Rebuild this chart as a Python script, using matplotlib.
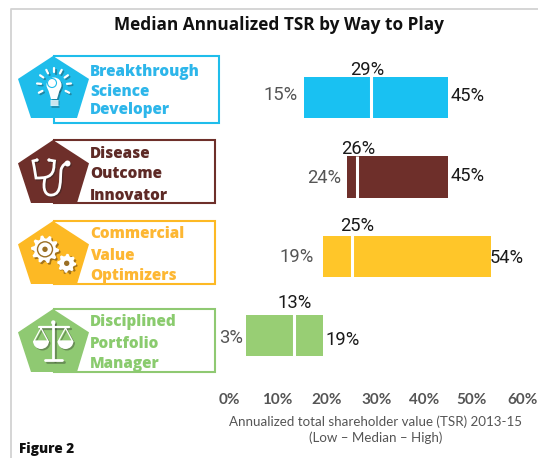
import numpy as np
from matplotlib import pyplot as plt
from matplotlib.patches import Polygon, Circle, Rectangle, PathPatch, Wedge
from matplotlib.path import Path
from matplotlib.transforms import ScaledTranslation

# data
groups = ["Breakthrough\nScience\nDeveloper", "Disease\nOutcome\nInnovator",
          "Commercial\nValue\nOptimizers", "Disciplined\nPortfolio\nManager"]
low = [15, 24, 19, 3]
median = [29, 26, 25, 13]
high = [45, 45, 54, 19]
ticks = [0, 10, 20, 30, 40, 50, 60]
tick_labels = ["0%", "10%", "20%", "30%", "40%", "50%", "60%"]

bar_colors = ["#19C1F2", "#6E2F2A", "#FFC629", "#98CE74"]
hex_colors = ["#1FBDEB", "#6E2F2A", "#FDB924", "#8FC972"]
text_colors = ["#2DB6EA", "#5E2A26", "#FDB733", "#8ACB6E"]

# label offsets in pixels from the bar ends
low_off = [(-23, -3), (-23, 0.5), (-26, 0.5), (-15, 2.5)]
med_off = [(-4, -28), (2, -28.5), (5, -30.5), (0, -32.5)]
high_off = [(20, -2), (19.5, -1.5), (16, 1.5), (20, 4.5)]
tick_off = [-3, -3, -1, 1, 0, 0, 3.5]

# box positions: top, bottom, right, text lines
box_top = [56, 140, 221, 309]
box_bot = [123, 203, 284, 372]
box_right = [219, 215, 215, 215]
text_y = [[72.5, 92.5, 110.5], [153.5, 174.5, 195.5], [234.5, 255.5, 276.5], [322.5, 343.5, 364.5]]

W, H = 538, 458
fig = plt.figure(figsize=(W / 100, H / 100), dpi=100)

bg = fig.add_axes([0, 0, 1, 1])
bg.set_xlim(0, W)
bg.set_ylim(H, 0)
bg.axis("off")

bg.plot([10.5, 10.5, W], [H, 8.5, 8.5], color="#D2D2D2", lw=1.3)

bg.text(278.5, 25, "Median Annualized TSR by Way to Play", ha="center", va="center",
        family="Open Sans", weight="bold", size=12.4, color="#111111")
bg.text(19, 449, "Figure 2", ha="left", va="center", family="Open Sans",
        weight="extra bold", size=9.8, color="#111111")


def line(pts, lw, color, alpha=1.0, cap="round"):
    xs, ys = zip(*pts)
    bg.plot(xs, ys, color=color, lw=lw, alpha=alpha, solid_capstyle=cap, zorder=6 if alpha == 1.0 else 5)


def bulb(dx, dy, c, a=1.0):
    z = 6 if a == 1.0 else 5
    cx, cy = 54 + dx, 85 + dy
    for ang in [0, 27, -27, 55, -55, 85, -85, 117, -117]:
        r = np.radians(ang)
        line([(cx + 13 * np.sin(r), cy - 13 * np.cos(r)), (cx + 17 * np.sin(r), cy - 17 * np.cos(r))], 1.6, c, a)
    bg.add_patch(Circle((cx, cy), 7.5, fc=c, ec="none", alpha=a, zorder=z))
    bg.add_patch(Polygon([(cx - 6, cy + 4), (cx + 6, cy + 4), (cx + 3, cy + 14), (cx - 3, cy + 14)], fc=c, ec="none", alpha=a, zorder=z))
    for yy in [15.5, 17.8, 20]:
        line([(cx - 3.5, cy + yy), (cx + 3.5, cy + yy)], 1.1, c, a)


def stetho(dx, dy, c, a=1.0):
    z = 6 if a == 1.0 else 5
    u = Path([(37, 160), (33, 161), (34, 165), (36, 178), (45, 178), (54, 178), (54, 165), (54.5, 161), (49, 160)],
             [Path.MOVETO, Path.LINETO, Path.CURVE3, Path.CURVE3, Path.CURVE4, Path.CURVE4, Path.CURVE4, Path.LINETO, Path.LINETO])
    tube = Path([(45, 178), (42, 190), (46, 196), (52, 195), (62, 194), (60, 180), (61, 170), (62, 165), (66, 163), (67, 163)],
                [Path.MOVETO, Path.CURVE4, Path.CURVE4, Path.CURVE4, Path.CURVE4, Path.CURVE4, Path.CURVE4, Path.CURVE4, Path.CURVE4, Path.CURVE4])
    for p in [u, tube]:
        p = Path(p.vertices + [dx, dy], p.codes)
        bg.add_patch(PathPatch(p, fc="none", ec=c, lw=2.0, alpha=a, zorder=z, capstyle="round"))
    bg.add_patch(Circle((37 + dx, 160 + dy), 1.6, fc=c, ec="none", alpha=a, zorder=z))
    bg.add_patch(Circle((49 + dx, 160 + dy), 1.6, fc=c, ec="none", alpha=a, zorder=z))
    bg.add_patch(Circle((67.5 + dx, 163.5 + dy), 3, fc=c, ec="none", alpha=a, zorder=z))


def gear(cx, cy, r, c, a=1.0, teeth=10):
    z = 6 if a == 1.0 else 5
    t = np.linspace(0, 2 * np.pi, teeth * 4, endpoint=False)
    rr = np.where(np.arange(teeth * 4) % 4 < 2, r, r * 0.78)
    bg.add_patch(Polygon(np.c_[cx + rr * np.cos(t), cy + rr * np.sin(t)], fc=c, ec="none", alpha=a, zorder=z))


def scales(dx, dy, c, a=1.0):
    z = 6 if a == 1.0 else 5
    line([(53.3 + dx, 323 + dy), (53.3 + dx, 359 + dy)], 2.0, c, a)
    line([(45 + dx, 360 + dy), (62 + dx, 360 + dy)], 2.0, c, a)
    line([(38.5 + dx, 327 + dy), (69 + dx, 327 + dy)], 1.6, c, a)
    bg.add_patch(Circle((53.3 + dx, 322.5 + dy), 2.2, fc=c, ec="none", alpha=a, zorder=z))
    for x0 in [41, 65.5]:
        line([(x0 + dx, 328 + dy), (x0 - 7 + dx, 341 + dy), (x0 + 7 + dx, 341 + dy), (x0 + dx, 328 + dy)], 0.9, c, a)
        bg.add_patch(Wedge((x0 + dx, 341 + dy), 8, 0, 180, fc=c, ec="none", alpha=a, zorder=z))


for i in range(4):
    top, bot, right = box_top[i], box_bot[i], box_right[i]
    bg.add_patch(Rectangle((53.5, top), right - 53.5, bot - top, fc="white", ec=hex_colors[i], lw=1.5, zorder=2))
    bot_p = bot if i else 118
    mid = top + (bot_p - top) * 0.37
    bg.add_patch(Polygon([(53, top), (89, mid), (77, bot_p), (31, bot_p), (18, mid)], fc=hex_colors[i], ec="none", zorder=3))
    for line_txt, yy in zip(groups[i].split("\n"), text_y[i]):
        bg.text(90, yy, line_txt, ha="left", va="center", family="Open Sans", weight="extra bold",
                size=11, color=text_colors[i], zorder=4)

shadow = "#222222"
bulb(1.5, 1.5, shadow, 0.35)
bulb(0, 0, "white")
bg.add_patch(Circle((52, 83), 4.5, fc="none", ec=hex_colors[0], lw=0.8, zorder=7))
stetho(1.2, 1.2, shadow, 0.4)
stetho(0, 0, "white")
gear(46.5, 251, 14, "#5A3A10", 0.55)
gear(68, 265, 9.5, "#5A3A10", 0.55)
gear(45, 249.3, 14, "white")
gear(66.7, 263.3, 9.5, "white", teeth=8)
bg.add_patch(Circle((45, 249.3), 7.5, fc="none", ec="#9A6F25", lw=1.0, zorder=7))
bg.add_patch(Circle((45, 249.3), 2.7, fc="#9A6F25", ec="none", zorder=7))
bg.add_patch(Circle((66.7, 263.3), 2.7, fc="#9A6F25", ec="none", zorder=7))
scales(1.5, 1.5, shadow, 0.35)
scales(0, 0, "white")

# bars
ax_left, ax_right = 232, 519.5
ax_top, ax_bot = 50.3, 383
ax = fig.add_axes([ax_left / W, 1 - ax_bot / H, (ax_right - ax_left) / W, (ax_bot - ax_top) / H])
ax.patch.set_alpha(0)
y = np.arange(4)
for i in y:
    ax.barh(i, median[i] - low[i], left=low[i], height=0.52, color=bar_colors[i])
    ax.barh(i, high[i] - median[i], left=median[i], height=0.52, color=bar_colors[i])
    ax.plot([median[i], median[i]], [i - 0.27, i + 0.27], color="white", lw=2.2, solid_capstyle="butt")
    for val, off, col in [(low[i], low_off[i], "#555555"), (median[i], med_off[i], "#1A1A1A"), (high[i], high_off[i], "#1A1A1A")]:
        ax.annotate("%d%%" % val, (val, i), xytext=(off[0] * 0.72, -off[1] * 0.72), textcoords="offset points",
                    ha="center", va="center", family="Roboto", size=13.2, color=col)

ax.set_yticks([])
ax.set_xticks(ticks)
ax.set_xticklabels(tick_labels, family="Lato", weight="bold", size=11, color="#555555")
ax.set_xlim(0, 60)
ax.set_ylim(3.6, -0.6)
ax.tick_params(axis="x", length=0, pad=7.5)
for lab, off in zip(ax.get_xticklabels(), tick_off):
    lab.set_transform(lab.get_transform() + ScaledTranslation(off / 100, 0, fig.dpi_scale_trans))
ax.set_xlabel("Annualized total shareholder value (TSR) 2013-15\n(Low \u2013 Median \u2013 High)",
              family="Lato", size=9.6, color="#555555", labelpad=6, linespacing=1.3)
for s in ax.spines.values():
    s.set_visible(False)

plt.savefig("out.png", dpi=100)
